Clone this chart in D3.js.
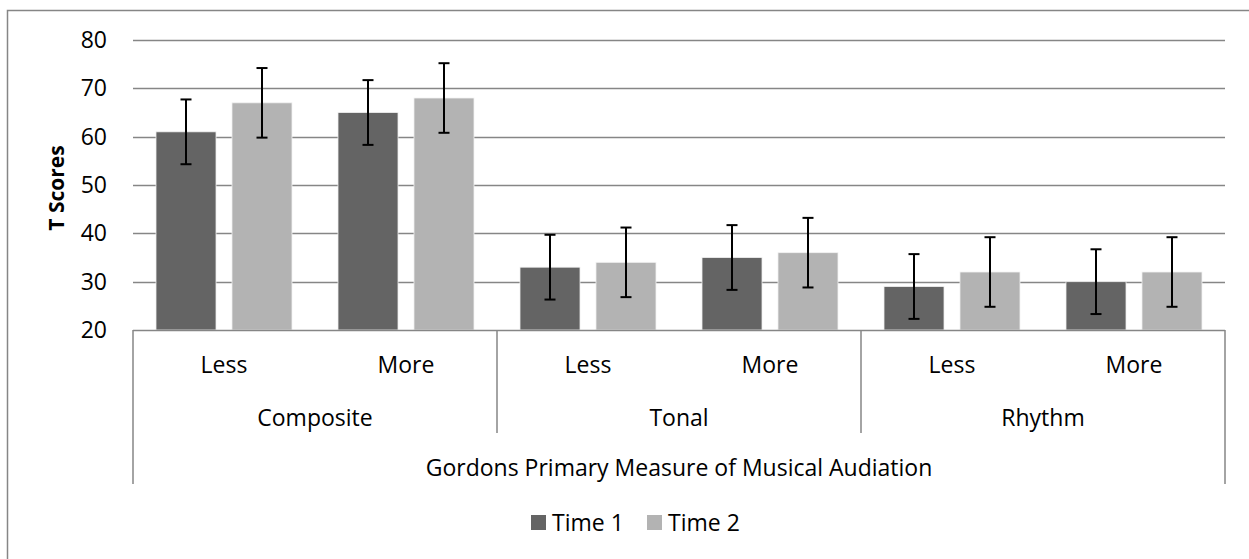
<!DOCTYPE html>
<html>
<head>
<meta charset="utf-8">
<script src="https://cdn.jsdelivr.net/npm/d3@7"></script>
<style>
  html, body { margin: 0; padding: 0; background: #fff; }
  svg { display: block; font-family: "Open Sans", Lato, sans-serif; }
</style>
</head>
<body>
<svg id="chart" width="1249" height="559"></svg>
<script>
const groups = ["Composite", "Tonal", "Rhythm"];
const subgroups = ["Less", "More"];
const series = ["Time 1", "Time 2"];
const time1Values = [61, 65, 33, 35, 29, 30];
const time2Values = [67, 68, 34, 36, 32, 32];
const time1Errors = [6.7, 6.7, 6.7, 6.7, 6.7, 6.7];
const time2Errors = [7.2, 7.2, 7.2, 7.2, 7.2, 7.2];
const yTicks = [20, 30, 40, 50, 60, 70, 80];
const axisTitle = "Gordons Primary Measure of Musical Audiation";
const yTitle = "T Scores";
const colors = ["#646464", "#b3b3b3"];

const FS = 23;
const svg = d3.select("#chart");
const L = 133, R = 1225, T = 40, B = 330;

// outer border
svg.append("rect").attr("x", 7.5).attr("y", 10.5).attr("width", 1260).attr("height", 600)
  .attr("fill", "none").attr("stroke", "#868686").attr("stroke-width", 1.5);

const cats = [];
groups.forEach(g => subgroups.forEach(s => cats.push(g + "|" + s)));

const x0 = d3.scaleBand().domain(cats).range([L, R]).padding(0);
const x1 = d3.scaleBand().domain(series).range([0, x0.bandwidth()])
  .paddingInner(0.21).paddingOuter(0.3026);
const y = d3.scaleLinear().domain([20, 80]).range([B, T]);

// gridlines
svg.append("g").selectAll("line").data(yTicks.filter(t => t > 20)).join("line")
  .attr("x1", L).attr("x2", R)
  .attr("y1", d => Math.round(y(d)) + 0.5).attr("y2", d => Math.round(y(d)) + 0.5)
  .attr("stroke", "#868686").attr("stroke-width", 1.5);

// y axis labels
const yAxis = d3.axisLeft(y).tickValues(yTicks).tickSize(0).tickPadding(0);
const ya = svg.append("g").attr("transform", `translate(107,0)`).call(yAxis);
ya.select(".domain").remove();
ya.selectAll("text").attr("font-size", FS).attr("fill", "#000")
  .attr("font-family", "'Open Sans', Lato, sans-serif");

// bars
const data = [];
cats.forEach((c, i) => {
  data.push({ cat: c, s: series[0], v: time1Values[i], e: time1Errors[i], col: colors[0] });
  data.push({ cat: c, s: series[1], v: time2Values[i], e: time2Errors[i], col: colors[1] });
});
svg.append("g").selectAll("rect").data(data).join("rect")
  .attr("x", d => x0(d.cat) + x1(d.s))
  .attr("y", d => y(d.v))
  .attr("width", x1.bandwidth())
  .attr("height", d => y(20) - y(d.v))
  .attr("fill", d => d.col)
  .attr("stroke", "#f2f2f2").attr("stroke-width", 0.8);

// error bars
const eb = svg.append("g").attr("stroke", "#000").attr("stroke-width", 2);
data.forEach(d => {
  const cx = Math.round(x0(d.cat) + x1(d.s) + x1.bandwidth() / 2);
  const yt = y(d.v + d.e), yb = y(d.v - d.e);
  eb.append("line").attr("x1", cx).attr("x2", cx).attr("y1", yt).attr("y2", yb);
  eb.append("line").attr("x1", cx - 5.5).attr("x2", cx + 5.5).attr("y1", yt).attr("y2", yt);
  eb.append("line").attr("x1", cx - 5.5).attr("x2", cx + 5.5).attr("y1", yb).attr("y2", yb);
});

// bottom multi-level axis
const ax = svg.append("g").attr("stroke", "#868686").attr("stroke-width", 1.5);
ax.append("line").attr("x1", L).attr("x2", R).attr("y1", B + 0.5).attr("y2", B + 0.5);
ax.append("line").attr("x1", L).attr("x2", L).attr("y1", B).attr("y2", 484);
ax.append("line").attr("x1", R).attr("x2", R).attr("y1", B).attr("y2", 484);
const gScale = d3.scaleBand().domain(groups).range([L, R]);
groups.slice(1).forEach(g => {
  ax.append("line").attr("x1", gScale(g)).attr("x2", gScale(g)).attr("y1", B).attr("y2", 433);
});

const txt = svg.append("g").attr("font-size", FS).attr("fill", "#000").attr("text-anchor", "middle");
cats.forEach(c => {
  txt.append("text").attr("x", x0(c) + x0.bandwidth() / 2).attr("y", 373).text(c.split("|")[1]);
});
groups.forEach(g => {
  txt.append("text").attr("x", gScale(g) + gScale.bandwidth() / 2).attr("y", 426).text(g);
});
txt.append("text").attr("x", (L + R) / 2).attr("y", 476).text(axisTitle);

// y title
svg.append("text").attr("transform", "translate(64,188) rotate(-90)")
  .attr("text-anchor", "middle").attr("font-size", 21).attr("font-weight", "bold")
  .text(yTitle);

// legend
const leg = svg.append("g");
const legX = [531, 647];
series.forEach((s, i) => {
  leg.append("rect").attr("x", legX[i]).attr("y", 515).attr("width", 15).attr("height", 15).attr("fill", colors[i]);
  leg.append("text").attr("x", legX[i] + 21).attr("y", 531).attr("font-size", FS).text(s);
});
</script>
</body>
</html>
